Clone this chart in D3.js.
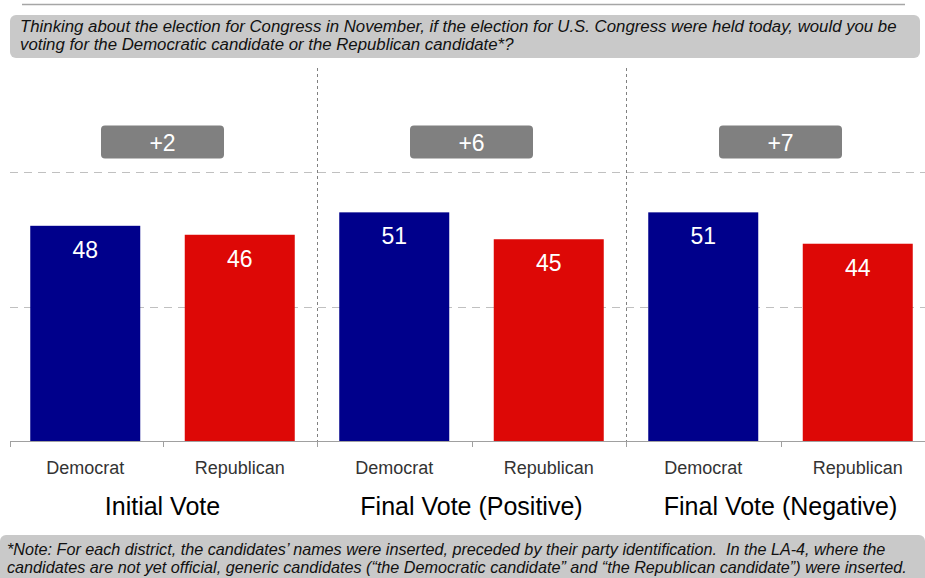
<!DOCTYPE html>
<html>
<head>
<meta charset="utf-8">
<script src="https://cdn.jsdelivr.net/npm/d3@7"></script>
<style>
  body { margin: 0; background: #fff; }
  svg { display: block; font-family: "Liberation Sans", Arial, sans-serif; }
  text { white-space: pre; }
</style>
</head>
<body>
<svg id="chart" width="925" height="578"></svg>
<script>
// Data
const groups = ["Initial Vote", "Final Vote (Positive)", "Final Vote (Negative)"];
const parties = ["Democrat", "Republican"];
const demValues = [48, 51, 51];
const repValues = [46, 45, 44];
const margins = ["+2", "+6", "+7"];
const gridTicks = [30, 60];

const titleLines = [
    "Thinking about the election for Congress in November, if the election for U.S. Congress were held today, would you be",
    "voting for the Democratic candidate or the Republican candidate*?"
];
const noteLines = [
    "*Note: For each district, the candidates\u2019 names were inserted, preceded by their party identification.  In the LA-4, where the",
    "candidates are not yet official, generic candidates (\u201cthe Democratic candidate\u201d and \u201cthe Republican candidate\u201d) were inserted."
];

const partyColor = { Democrat: "#00008b", Republican: "#dd0806" };

const svg = d3.select("#chart");
const width = 925;
const baseline = 441;

// Flatten into one bar per band
const bars = [];
groups.forEach((g, i) => {
    bars.push({ group: g, party: parties[0], value: demValues[i], key: g + "|Democrat" });
    bars.push({ group: g, party: parties[1], value: repValues[i], key: g + "|Republican" });
});

const x = d3.scaleBand()
    .domain(bars.map(d => d.key))
    .range([8, 935])
    .paddingInner(0)
    .paddingOuter(0);

const y = d3.scaleLinear()
    .domain([0, 60])
    .range([baseline, 172]);

const barWidth = 110;

// Top rule
svg.append("line")
    .attr("x1", 22).attr("x2", 905)
    .attr("y1", 4.5).attr("y2", 4.5)
    .attr("stroke", "#a6a6a6")
    .attr("stroke-width", 1.5);

// Question box
svg.append("rect")
    .attr("x", 10).attr("y", 15)
    .attr("width", 910).attr("height", 43)
    .attr("rx", 6)
    .attr("fill", "#c9c9c9");

svg.append("g")
    .selectAll("text")
    .data(titleLines)
    .join("text")
    .attr("x", 20)
    .attr("y", (d, i) => 32 + i * 18)
    .attr("font-size", 16.8)
    .attr("font-style", "italic")
    .attr("fill", "#111")
    .text(d => d);

// Horizontal gridlines
svg.append("g")
    .selectAll("line")
    .data(gridTicks)
    .join("line")
    .attr("x1", 10).attr("x2", width)
    .attr("y1", d => Math.round(y(d)) + 0.5)
    .attr("y2", d => Math.round(y(d)) + 0.5)
    .attr("stroke", "#c0c0c0")
    .attr("stroke-dasharray", "8,6");

// Vertical group separators
const separators = [groups[1] + "|Democrat", groups[2] + "|Democrat"];
svg.append("g")
    .selectAll("line")
    .data(separators)
    .join("line")
    .attr("x1", d => Math.round(x(d)) + 0.5)
    .attr("x2", d => Math.round(x(d)) + 0.5)
    .attr("y1", 68).attr("y2", 443)
    .attr("stroke", "#808080")
    .attr("stroke-dasharray", "3,3");

// Bars
svg.append("g")
    .selectAll("rect")
    .data(bars)
    .join("rect")
    .attr("x", d => x(d.key) + (x.bandwidth() - barWidth) / 2)
    .attr("y", d => y(d.value))
    .attr("width", barWidth)
    .attr("height", d => baseline - y(d.value))
    .attr("fill", d => partyColor[d.party]);

// Value labels inside bars
svg.append("g")
    .selectAll("text")
    .data(bars)
    .join("text")
    .attr("x", d => x(d.key) + x.bandwidth() / 2)
    .attr("y", d => y(d.value) + 32)
    .attr("text-anchor", "middle")
    .attr("font-size", 23)
    .attr("fill", "#fff")
    .text(d => d.value);

// Axis line and ticks
svg.append("line")
    .attr("x1", 10).attr("x2", width)
    .attr("y1", baseline + 0.5).attr("y2", baseline + 0.5)
    .attr("stroke", "#a0a0a0");

const tickXs = bars.map(d => x(d.key)).concat([x.range()[1]]);
svg.append("g")
    .selectAll("line")
    .data(tickXs)
    .join("line")
    .attr("x1", d => Math.round(Math.max(d, 10)) + 0.5)
    .attr("x2", d => Math.round(Math.max(d, 10)) + 0.5)
    .attr("y1", baseline).attr("y2", baseline + 6)
    .attr("stroke", "#a0a0a0");

// Party labels
svg.append("g")
    .selectAll("text")
    .data(bars)
    .join("text")
    .attr("x", d => x(d.key) + x.bandwidth() / 2)
    .attr("y", 474)
    .attr("text-anchor", "middle")
    .attr("font-size", 18)
    .attr("fill", "#333")
    .text(d => d.party);

// Group labels and margin boxes
const groupCenter = g => (x(g + "|Democrat") + x(g + "|Republican") + x.bandwidth()) / 2;

svg.append("g")
    .selectAll("text")
    .data(groups)
    .join("text")
    .attr("x", groupCenter)
    .attr("y", 515)
    .attr("text-anchor", "middle")
    .attr("font-size", 25)
    .attr("fill", "#000")
    .text(d => d);

const marginBox = svg.append("g")
    .selectAll("g")
    .data(groups)
    .join("g")
    .attr("transform", g => `translate(${groupCenter(g)},142)`);

marginBox.append("rect")
    .attr("x", -61.5).attr("y", -16.5)
    .attr("width", 123).attr("height", 33)
    .attr("rx", 4)
    .attr("fill", "#808080");

marginBox.append("text")
    .attr("y", 8.5)
    .attr("text-anchor", "middle")
    .attr("font-size", 23)
    .attr("fill", "#fff")
    .text((g, i) => margins[i]);

// Footnote box
svg.append("rect")
    .attr("x", 0).attr("y", 535)
    .attr("width", 925).attr("height", 50)
    .attr("rx", 6)
    .attr("fill", "#c9c9c9");

svg.append("g")
    .selectAll("text")
    .data(noteLines)
    .join("text")
    .attr("x", 7)
    .attr("y", (d, i) => 555 + i * 18)
    .attr("font-size", 16.2)
    .attr("font-style", "italic")
    .attr("fill", "#111")
    .text(d => d);
</script>
</body>
</html>
